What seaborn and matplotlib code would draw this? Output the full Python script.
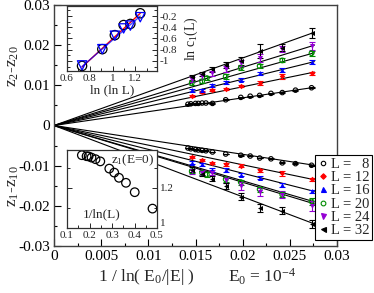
import numpy as np
import pandas as pd
import matplotlib
matplotlib.use("Agg")
import matplotlib.pyplot as plt
from matplotlib.lines import Line2D
from matplotlib.ticker import FuncFormatter, MultipleLocator
import seaborn as sns

sns.set_theme(style="ticks")
plt.rcParams["font.family"] = ["Liberation Serif", "DejaVu Serif"]
plt.rcParams["mathtext.fontset"] = "custom"
plt.rcParams["mathtext.rm"] = "Liberation Serif"
plt.rcParams["mathtext.it"] = "Liberation Serif:italic"
plt.rcParams["mathtext.default"] = "rm"
plt.rcParams["axes.unicode_minus"] = False

# ---------------- data ----------------
L_values = [8, 12, 16, 20, 24, 32]
L_labels = ["L =   8", "L = 12", "L = 16", "L = 20", "L = 24", "L = 32"]

x_L8 = [0.0142, 0.0145, 0.0150, 0.0153, 0.0157, 0.0161, 0.0168, 0.0182,
        0.0198, 0.0208, 0.0218, 0.0230, 0.0242, 0.0256, 0.0273]
x_std = [0.0146, 0.0157, 0.0168, 0.0182, 0.0198, 0.0218, 0.0242, 0.0273]
x_L20 = [0.0146, 0.0157, 0.0162, 0.0182, 0.0198, 0.0218, 0.0242, 0.0273]

up_L8 = [0.0053, 0.0054, 0.0055, 0.0055, 0.0056, 0.0056, 0.0055, 0.0064,
         0.0070, 0.0073, 0.0075, 0.0080, 0.0082, 0.0088, 0.0094]
up_L12 = [0.0073, 0.0083, 0.0088, 0.0091, 0.0098, 0.0106, 0.0122, 0.0130]
up_L16 = [0.0088, 0.0088, 0.0100, 0.0108, 0.0114, 0.0130, 0.0138, 0.0158]
up_L20 = [0.0106, 0.0110, 0.0118, 0.0122, 0.0144, 0.0148, 0.0162, 0.0180]
up_L24 = [0.0114, 0.0122, 0.0130, 0.0140, 0.0156, 0.0168, 0.0190, 0.0198]
up_L32 = [0.0120, 0.0128, 0.0140, 0.0150, 0.0160, 0.0186, 0.0194, 0.0230]

lo_L8 = [-0.0056, -0.0058, -0.0060, -0.0061, -0.0062, -0.0063, -0.0066, -0.0071,
         -0.0074, -0.0076, -0.0081, -0.0083, -0.0093, -0.0095, -0.0099]
lo_L12 = [-0.0078, -0.0086, -0.0093, -0.0097, -0.0100, -0.0112, -0.0119, -0.0134]
lo_L16 = [-0.0093, -0.0097, -0.0111, -0.0111, -0.0122, -0.0130, -0.0147, -0.0164]
lo_L20 = [-0.0114, -0.0118, -0.0122, -0.0134, -0.0141, -0.0159, -0.0172, -0.0189]
lo_L24 = [-0.0114, -0.0118, -0.0118, -0.0136, -0.0151, -0.0166, -0.0172, -0.0201]
lo_L32 = [-0.0110, -0.0120, -0.0132, -0.0150, -0.0177, -0.0205, -0.0212, -0.0246]

err_up_L8 = [0.0001] * 15
err_up_L12 = [0.0003, 0.0003, 0.0003, 0.0003, 0.0003, 0.0004, 0.0005, 0.0004]
err_up_L16 = [0.0004, 0.0004, 0.0004, 0.0004, 0.0004, 0.0004, 0.0006, 0.0004]
err_up_L20 = [0.0005, 0.0005, 0.0005, 0.0005, 0.0005, 0.0006, 0.0005, 0.0006]
err_up_L24 = [0.0006, 0.0006, 0.0006, 0.0008, 0.0008, 0.0010, 0.0007, 0.0010]
err_up_L32 = [0.0006, 0.0006, 0.0006, 0.0008, 0.0010, 0.0018, 0.0008, 0.0012]

err_lo_L8 = [0.0001] * 15
err_lo_L12 = [0.0003, 0.0003, 0.0003, 0.0003, 0.0003, 0.0004, 0.0006, 0.0004]
err_lo_L16 = [0.0004, 0.0004, 0.0004, 0.0006, 0.0004, 0.0004, 0.0005, 0.0004]
err_lo_L20 = [0.0005, 0.0005, 0.0005, 0.0006, 0.0006, 0.0006, 0.0006, 0.0008]
err_lo_L24 = [0.0006, 0.0006, 0.0006, 0.0008, 0.0010, 0.0010, 0.0008, 0.0012]
err_lo_L32 = [0.0006, 0.0006, 0.0006, 0.0008, 0.0008, 0.0010, 0.0008, 0.0010]

# fitted straight lines through the origin (value at x_fit_end)
x_fit_end = 0.0276
fit_up_end = [0.0095, 0.0133, 0.0159, 0.0181, 0.0200, 0.0232]
fit_lo_end = [-0.0099, -0.0135, -0.0164, -0.0190, -0.0195, -0.0245]

# inset 1: ln c1(L) vs ln(ln L)
lnlnL = [0.732, 0.910, 1.020, 1.097, 1.156, 1.243]
lnc1_circ = [-1.09, -0.79, -0.54, -0.36, -0.34, -0.15]
lnc1_tri = [-1.08, -0.79, -0.55, -0.42, -0.37, -0.22]
fit_red_y = [-1.11, -0.15]
fit_blue_y = [-1.10, -0.20]

# inset 2: z1(E=0) vs 1/ln(L)
inv_lnL = [0.166, 0.187, 0.196, 0.209, 0.227, 0.248, 0.288, 0.310, 0.331,
           0.362, 0.401, 0.480]
z1_E0 = [1.364, 1.359, 1.358, 1.352, 1.344, 1.333, 1.297, 1.277, 1.251,
         1.226, 1.179, 1.097]

# ---------------- styles ----------------
colors = ["black", "#ff0000", "#0000ff", "#008b00", "#9400d3", "black"]
markers = ["o", "D", "^", "o", "v", "<"]
filled = [False, True, True, False, True, True]
msizes = [3.2, 2.8, 3.6, 3.4, 3.6, 3.6]

ups = [up_L8, up_L12, up_L16, up_L20, up_L24, up_L32]
los = [lo_L8, lo_L12, lo_L16, lo_L20, lo_L24, lo_L32]
eups = [err_up_L8, err_up_L12, err_up_L16, err_up_L20, err_up_L24, err_up_L32]
elos = [err_lo_L8, err_lo_L12, err_lo_L16, err_lo_L20, err_lo_L24, err_lo_L32]
xs = [x_L8, x_std, x_std, x_L20, x_std, x_std]


def fmt(v, pos):
    s = "%g" % round(v, 6)
    return "0" if s in ("-0", "0") else s


W, H = 374, 293
fig = plt.figure(figsize=(W / 100, H / 100), dpi=100)
fig.patch.set_facecolor("white")


def rect(l, t, r, b):
    return [l / W, 1 - b / H, (r - l) / W, (b - t) / H]


ax = fig.add_axes(rect(54, 5, 337, 246))
ax.set_facecolor("white")

# fit lines
for i in range(6):
    df_line = pd.DataFrame({"x": [0.0, x_fit_end, 0.0, x_fit_end],
                            "y": [0.0, fit_up_end[i], 0.0, fit_lo_end[i]],
                            "g": ["u", "u", "l", "l"]})
    sns.lineplot(data=df_line, x="x", y="y", units="g", estimator=None,
                 sort=False, color="black", lw=0.8, ax=ax, zorder=2)

# data points with error bars
for i in range(6):
    for yy, ee in ((ups[i], eups[i]), (los[i], elos[i])):
        ax.errorbar(xs[i], yy, yerr=ee, fmt="none", ecolor=colors[i],
                    elinewidth=0.8, capsize=2.3, capthick=0.8, zorder=3)
        df = pd.DataFrame({"x": xs[i], "y": yy})
        if filled[i]:
            sns.scatterplot(data=df, x="x", y="y", marker=markers[i],
                            color=colors[i], s=msizes[i] ** 2, linewidth=0,
                            ax=ax, zorder=4)
        else:
            sns.scatterplot(data=df, x="x", y="y", marker=markers[i],
                            facecolor="none", edgecolor=colors[i],
                            s=msizes[i] ** 2, linewidth=0.8, ax=ax, zorder=4)

ax.set_xlim(0, 0.03)
ax.set_ylim(-0.03, 0.03)
ax.xaxis.set_major_locator(MultipleLocator(0.005))
ax.xaxis.set_minor_locator(MultipleLocator(0.0025))
ax.yaxis.set_major_locator(MultipleLocator(0.01))
ax.yaxis.set_minor_locator(MultipleLocator(0.005))
ax.xaxis.set_major_formatter(FuncFormatter(fmt))
ax.yaxis.set_major_formatter(FuncFormatter(fmt))
ax.tick_params(which="both", direction="in", labelsize=11, colors="black",
               width=0.8)
ax.tick_params(which="major", length=5, pad=3)
ax.tick_params(which="minor", length=2.5)
for sp in ax.spines.values():
    sp.set_visible(True)
    sp.set_linewidth(1.0)
    sp.set_color("#404040")
ax.set_xlabel("")
ax.set_ylabel("")

fig.text(146 / W, 1 - 277 / H, "1 / ln( $E_0$/|E| )", ha="center",
         va="center", fontsize=12.5)
fig.text(262 / W, 1 - 277 / H, "$E_0$ = $10^{-4}$", ha="center",
         va="center", fontsize=12.5)
fig.text(13 / W, 1 - 66 / H, "$z_2$-$z_{20}$", rotation=90, ha="center",
         va="center", fontsize=12.5)
fig.text(13 / W, 1 - 186 / H, "$z_1$-$z_{10}$", rotation=90, ha="center",
         va="center", fontsize=12.5)

# legend
handles = []
for i in range(6):
    handles.append(Line2D([], [], ls="none", marker=markers[i],
                          color=colors[i],
                          markerfacecolor=colors[i] if filled[i] else "none",
                          markeredgecolor=colors[i], markersize=msizes[i],
                          markeredgewidth=0.8))
leg = ax.legend(handles, L_labels, loc="lower right",
                bbox_to_anchor=(372 / W, 1 - 240 / H),
                bbox_transform=fig.transFigure, fontsize=10.5, frameon=True,
                fancybox=False, edgecolor="black", framealpha=1,
                borderpad=0.2, handletextpad=0.25, handlelength=0.6,
                labelspacing=0.0, borderaxespad=0)
leg.get_frame().set_linewidth(0.8)

# ---------------- inset 1 ----------------
ax1 = fig.add_axes(rect(67, 6, 157, 71))
ax1.set_facecolor("white")
df1 = pd.DataFrame({"x": [lnlnL[0], lnlnL[-1]], "y": fit_red_y})
sns.lineplot(data=df1, x="x", y="y", color="#ff0000", lw=1.0, ax=ax1,
             sort=False, estimator=None)
df1b = pd.DataFrame({"x": [lnlnL[0], lnlnL[-1]], "y": fit_blue_y})
sns.lineplot(data=df1b, x="x", y="y", color="#0000ff", lw=1.0, ax=ax1,
             sort=False, estimator=None, alpha=0.7)
sns.scatterplot(x=lnlnL, y=lnc1_circ, marker="o", facecolor="none",
                edgecolor="black", s=45, linewidth=0.9, ax=ax1, zorder=4)
sns.scatterplot(x=lnlnL, y=lnc1_tri, marker="v", facecolor="none",
                edgecolor="#0000ff", s=45, linewidth=0.9, ax=ax1, zorder=5)
ax1.set_xlim(0.6, 1.39)
ax1.set_ylim(-1.18, -0.02)
ax1.xaxis.set_major_locator(MultipleLocator(0.2))
ax1.xaxis.set_minor_locator(MultipleLocator(0.1))
ax1.yaxis.set_major_locator(MultipleLocator(0.2))
ax1.yaxis.set_minor_locator(MultipleLocator(0.1))
ax1.xaxis.set_major_formatter(FuncFormatter(fmt))
ax1.yaxis.set_major_formatter(FuncFormatter(fmt))
ax1.yaxis.tick_right()
ax1.yaxis.set_label_position("right")
ax1.tick_params(which="both", direction="in", labelsize=8, left=True,
                right=True, width=0.7, pad=2)
ax1.tick_params(which="major", length=3.5)
ax1.tick_params(which="minor", length=2)
for sp in ax1.spines.values():
    sp.set_visible(True)
    sp.set_linewidth(0.9)
    sp.set_color("#303030")
ax1.set_xlabel("ln (ln L)", fontsize=9.5, labelpad=1)
ax1.set_ylabel("ln $c_1$(L)", fontsize=10, labelpad=4)

# ---------------- inset 2 ----------------
ax2 = fig.add_axes(rect(67, 150, 157, 228))
ax2.set_facecolor("white")
sns.scatterplot(x=inv_lnL, y=z1_E0, marker="o", facecolor="none",
                edgecolor="black", s=38, linewidth=0.9, ax=ax2)
ax2.set_xlim(0.1, 0.5)
ax2.set_ylim(1.0, 1.39)
ax2.xaxis.set_major_locator(MultipleLocator(0.1))
ax2.xaxis.set_minor_locator(MultipleLocator(0.05))
ax2.yaxis.set_major_locator(MultipleLocator(0.2))
ax2.yaxis.set_minor_locator(MultipleLocator(0.1))
ax2.xaxis.set_major_formatter(FuncFormatter(fmt))
ax2.yaxis.set_major_formatter(FuncFormatter(fmt))
ax2.yaxis.tick_right()
ax2.tick_params(which="both", direction="in", labelsize=8, left=True,
                right=True, width=0.7, pad=2)
ax2.tick_params(which="major", length=3.5)
ax2.tick_params(which="minor", length=2)
fig.canvas.draw()
for lab in ax2.get_yticklabels():
    if lab.get_text() == "1":
        lab.set_verticalalignment("bottom")
for sp in ax2.spines.values():
    sp.set_visible(True)
    sp.set_linewidth(0.9)
    sp.set_color("#303030")
ax2.set_xlabel("")
ax2.set_ylabel("")
ax2.text(0.97, 0.97, "$z_1$(E=0)", transform=ax2.transAxes, ha="right",
         va="top", fontsize=9.5)
ax2.text(0.17, 0.1, "1/ln(L)", transform=ax2.transAxes, ha="left",
         va="bottom", fontsize=9.5)

fig.savefig("out.png", dpi=100, facecolor="white")
